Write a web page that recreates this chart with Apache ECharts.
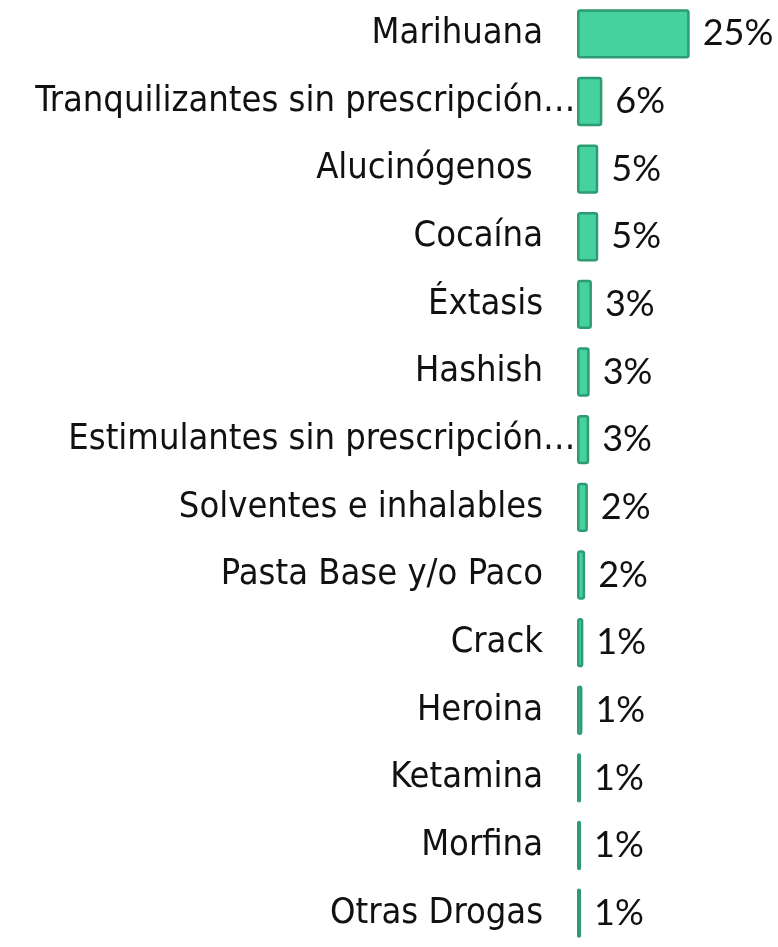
<!DOCTYPE html>
<html>
<head>
<meta charset="utf-8">
<script src="https://cdn.jsdelivr.net/npm/echarts@6/dist/echarts.min.js"></script>
<style>
  html, body { margin: 0; padding: 0; background: #fff; }
  #chart { width: 778px; height: 947px; }
</style>
</head>
<body>
<div id="chart"></div>
<script>
const categories = [
  'Marihuana',
  'Tranquilizantes sin prescripción…',
  'Alucinógenos ',
  'Cocaína',
  'Éxtasis',
  'Hashish',
  'Estimulantes sin prescripción…',
  'Solventes e inhalables',
  'Pasta Base y/o Paco',
  'Crack',
  'Heroina',
  'Ketamina',
  'Morfina',
  'Otras Drogas'
]
const values = [24.9, 5.6, 4.7, 4.7, 3.3, 2.8, 2.7, 2.4, 1.8, 1.4, 1.2, 0.9, 0.9, 0.9]

const chart = echarts.init(document.getElementById('chart'))

const labelFont = { fontFamily: 'DejaVu Sans Condensed', fontSize: 36, color: '#111' }

chart.setOption({
  animation: false,
  backgroundColor: '#fff',
  grid: { left: 577, right: 20, top: -1, bottom: -15 },
  xAxis: {
    type: 'value',
    min: 0,
    max: 40,
    show: false,
  },
  yAxis: {
    type: 'category',
    inverse: true,
    data: categories,
    axisLine: { show: false },
    axisTick: { show: false },
    axisLabel: {
      margin: 34,
      ...labelFont,
      // trailing ellipsis spills past the label edge like in the source
      formatter: name => {
        if (name.endsWith('…')) return '{t|' + name.slice(0, -1) + '}{e|…}'
        return name
      },
      rich: {
        t: { ...labelFont, align: 'left' },
        e: { ...labelFont, width: 0, align: 'left' },
      },
    },
  },
  series: [{
    type: 'bar',
    data: values,
    barWidth: '73%',
    clip: false,
    itemStyle: {
      color: '#46d1a0',
      borderColor: '#2e9b73',
      borderWidth: 2.5,
      borderRadius: 2,
    },
    label: {
      show: true,
      position: 'right',
      distance: 13,
      color: '#111',
      fontFamily: 'Lato',
      fontSize: 36,
      formatter: p => Math.round(p.value) + '%',
    },
  }],
})
</script>
</body>
</html>
